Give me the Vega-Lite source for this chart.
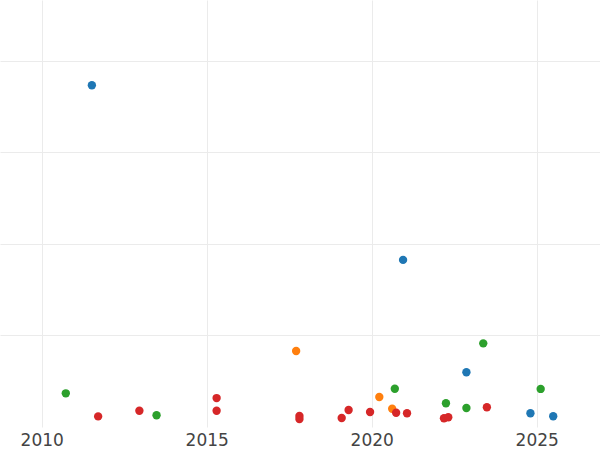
{
  "$schema": "https://vega.github.io/schema/vega-lite/v6.json",
  "width": 600,
  "height": 427,
  "autosize": {"type": "none"},
  "padding": {"left": 0, "top": 0, "right": 0, "bottom": 23},
  "background": "white",
  "config": {
    "view": {"stroke": null},
    "axis": {"gridColor": "#ebebeb", "gridWidth": 1, "domain": false, "ticks": false}
  },
  "data": {
    "values": [
      {"year": 2011.52, "value": 186.7, "group": "A"},
      {"year": 2020.95, "value": 91.3, "group": "A"},
      {"year": 2022.87, "value": 29.9, "group": "A"},
      {"year": 2024.81, "value": 7.5, "group": "A"},
      {"year": 2025.50, "value": 5.9, "group": "A"},
      {"year": 2017.71, "value": 41.5, "group": "B"},
      {"year": 2020.23, "value": 16.4, "group": "B"},
      {"year": 2020.62, "value": 10.0, "group": "B"},
      {"year": 2010.73, "value": 18.4, "group": "C"},
      {"year": 2013.48, "value": 6.4, "group": "C"},
      {"year": 2020.70, "value": 20.9, "group": "C"},
      {"year": 2022.25, "value": 13.0, "group": "C"},
      {"year": 2022.87, "value": 10.4, "group": "C"},
      {"year": 2023.38, "value": 45.7, "group": "C"},
      {"year": 2025.12, "value": 20.8, "group": "C"},
      {"year": 2011.71, "value": 5.8, "group": "D"},
      {"year": 2012.96, "value": 8.9, "group": "D"},
      {"year": 2015.30, "value": 15.8, "group": "D"},
      {"year": 2015.30, "value": 8.9, "group": "D"},
      {"year": 2017.81, "value": 6.0, "group": "D"},
      {"year": 2017.81, "value": 4.4, "group": "D"},
      {"year": 2019.09, "value": 4.9, "group": "D"},
      {"year": 2019.30, "value": 9.3, "group": "D"},
      {"year": 2019.95, "value": 8.2, "group": "D"},
      {"year": 2020.74, "value": 7.8, "group": "D"},
      {"year": 2021.07, "value": 7.5, "group": "D"},
      {"year": 2022.19, "value": 4.8, "group": "D"},
      {"year": 2022.32, "value": 5.3, "group": "D"},
      {"year": 2023.49, "value": 10.8, "group": "D"}
    ]
  },
  "mark": {"type": "circle", "size": 70, "opacity": 1},
  "encoding": {
    "x": {
      "field": "year",
      "type": "quantitative",
      "scale": {"domain": [2008.736, 2026.918], "nice": false, "zero": false},
      "axis": {
        "title": null,
        "values": [2010, 2015, 2020, 2025],
        "format": "d",
        "labelFont": "DejaVu Sans",
        "labelFontSize": 17,
        "labelColor": "#444444",
        "labelPadding": 5,
        "labelFlush": false
      }
    },
    "y": {
      "field": "value",
      "type": "quantitative",
      "scale": {"domain": [0, 233.3], "nice": false},
      "axis": {
        "title": null,
        "values": [50, 100, 150, 200],
        "labels": false
      }
    },
    "color": {
      "field": "group",
      "type": "nominal",
      "scale": {"domain": ["A", "B", "C", "D"], "range": ["#1f77b4", "#ff7f0e", "#2ca02c", "#d62728"]},
      "legend": null
    }
  }
}
